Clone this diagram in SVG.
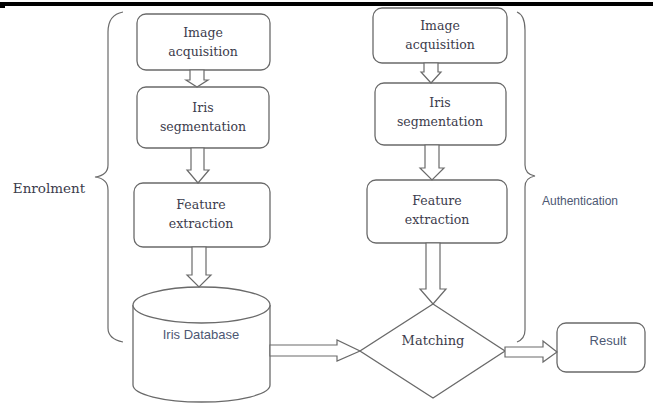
<svg xmlns="http://www.w3.org/2000/svg" width="653" height="403" viewBox="0 0 653 403">
<style>
.box{fill:#fff;stroke:#6a6a6a;stroke-width:1.3}
.arr{fill:#fff;stroke:#6a6a6a;stroke-width:1.2;stroke-linejoin:miter}
.br{fill:none;stroke:#6a6a6a;stroke-width:1.2}
.t{font-family:"DejaVu Serif",serif;font-size:12.5px;fill:#3c3c4c;text-anchor:middle}
.s{font-family:"Liberation Sans",Arial,sans-serif;font-size:12px;fill:#4d5873;text-anchor:middle}
</style>
<rect x="0" y="2" width="653" height="4" fill="#000"/>
<rect x="0" y="6" width="5" height="2" fill="#000"/>
<g id="braces">
<path class="br" d="M123,12 C112,14 108,22 108,32 L108,165 C108,172 103,176 95,177 C103,178 108,182 108,190 L108,328 C108,336 113,340 123,342"/>
<path class="br" d="M517,12 C522,14 525,20 525,30 L525,165 C525,171 529,175 535,176 C529,177 525,181 525,187 L525,330 C525,336 522,340 517,342"/>
</g>
<text class="t" x="49" y="193" style="font-size:13.5px;text-anchor:middle">Enrolment</text>
<text class="s" x="580" y="205">Authentication</text>
<g id="enrol-acq">
<rect class="box" x="137" y="14" width="133" height="56" rx="9"/>
<text class="t" x="203" y="37">Image</text>
<text class="t" x="203" y="56">acquisition</text>
</g>
<g id="enrol-seg">
<rect class="box" x="137" y="87" width="132" height="61" rx="9"/>
<text class="t" x="203" y="112">Iris</text>
<text class="t" x="203" y="131">segmentation</text>
</g>
<g id="enrol-feat">
<rect class="box" x="134" y="183" width="136" height="64" rx="9"/>
<text class="t" x="201" y="209">Feature</text>
<text class="t" x="201" y="228">extraction</text>
</g>
<g id="database">
<path class="box" d="M133,305 L133,385 A68.5,17 0 0 0 270,385 L270,305"/>
<ellipse class="box" cx="201.5" cy="305" rx="68.5" ry="18"/>
<text class="s" x="201" y="339" style="font-size:13px">Iris Database</text>
</g>
<g id="auth-acq">
<rect class="box" x="373" y="8" width="134" height="55" rx="9"/>
<text class="t" x="440" y="30">Image</text>
<text class="t" x="440" y="49">acquisition</text>
</g>
<g id="auth-seg">
<rect class="box" x="375" y="83" width="131" height="62" rx="9"/>
<text class="t" x="440" y="107">Iris</text>
<text class="t" x="440" y="126">segmentation</text>
</g>
<g id="auth-feat">
<rect class="box" x="367" y="180" width="140" height="63" rx="9"/>
<text class="t" x="437" y="205">Feature</text>
<text class="t" x="437" y="224">extraction</text>
</g>
<g id="matching">
<polygon class="box" points="433,304 505,351 433,398 360,351"/>
<text class="t" x="433" y="345" style="font-size:13px">Matching</text>
</g>
<g id="result">
<rect class="box" x="557" y="323" width="88" height="49" rx="9"/>
<text class="s" x="608" y="345" style="font-size:13px">Result</text>
</g>
<g id="connectors">
<polygon class="arr" points="190,70 204,70 204,80 208,80 197,87 186,80 190,80"/>
<polygon class="arr" points="191,148 204,148 204,170 209,170 198,183 187,170 191,170"/>
<polygon class="arr" points="192,247 206,247 206,275 211,275 199,287 187,275 192,275"/>
<polygon class="arr" points="424,63 438,63 438,72 441,72 431,83 421,72 424,72"/>
<polygon class="arr" points="425,145 439,145 439,168 444,168 432,180 420,168 425,168"/>
<polygon class="arr" points="426,243 440,243 440,289 446,289 433,304 420,289 426,289"/>
<polygon class="arr" points="270,345 337,345 337,340 360,351 337,361 337,356 270,356"/>
<polygon class="arr" points="505,347 543,347 543,341 557,352 543,362 543,357 505,357"/>
</g>
</svg>
